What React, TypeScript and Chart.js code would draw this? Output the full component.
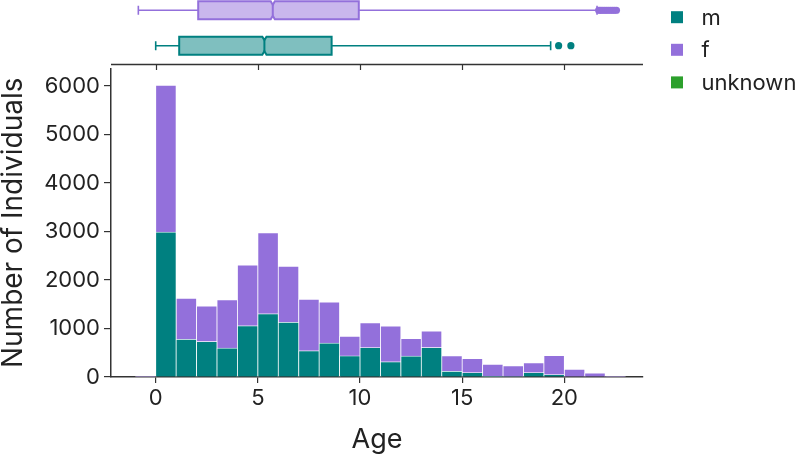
import React, { useEffect, useRef } from 'react';
import { Chart, registerables } from 'chart.js';

Chart.register(...registerables);

// ---------- data ----------
const binStarts = [-1, 0, 1, 2, 3, 4, 5, 6, 7, 8, 9, 10, 11, 12, 13, 14, 15, 16, 17, 18, 19, 20, 21, 22];
const mCounts = [0, 2990, 775, 730, 595, 1055, 1305, 1125, 540, 700, 435, 605, 315, 430, 607, 117, 90, 14, 10, 90, 48, 0, 0, 0];
const fCounts = [15, 3025, 845, 732, 998, 1255, 1670, 1158, 1060, 845, 406, 512, 733, 363, 338, 317, 289, 248, 218, 200, 393, 159, 83, 14];
const unknownCounts: number[] = [];
const seriesLabels = ['m', 'f', 'unknown'];

const xTicks = [0, 5, 10, 15, 20];
const yTicks = [0, 1000, 2000, 3000, 4000, 5000, 6000];

const boxNames = ['f', 'm'];
const boxRows = [1, 0];
const boxMin = [-0.85, 0.0];
const boxQ1 = [2.08, 1.15];
const boxMedian = [5.73, 5.32];
const boxQ3 = [9.94, 8.61];
const boxMax = [21.6, 19.33];
const notchHalf = [0.1, 0.1];
const fOutliers = [21.68, 21.76, 21.85, 21.95, 22.05, 22.15, 22.25, 22.35, 22.45, 22.55];
const mOutliers = [19.72, 20.32];
const boxOutliers = [fOutliers, mOutliers];

// ---------- styles ----------
const M_COLOR = '#008080';
const F_COLOR = '#9370DB';
const U_COLOR = '#2ca02c';
const M_FILL = 'rgba(0,128,128,0.5)';
const F_FILL = 'rgba(147,112,219,0.5)';
const AXIS = '#333333';
const TXT = '#222222';
const FONT = 'Inter';

const boxColors = [F_COLOR, M_COLOR];
const boxFills = [F_FILL, M_FILL];

const boxPlugin = {
  id: 'boxplots',
  afterDatasetsDraw(chart: any) {
    const x = chart.scales.x;
    const yb = chart.scales.yBox;
    const area = chart.chartArea;
    const ctx = chart.ctx;
    ctx.save();
    // bottom spine of marginal box area, with ticks
    const ySp = yb.bottom - 0.5;
    ctx.strokeStyle = AXIS;
    ctx.lineWidth = 1.5;
    ctx.beginPath();
    ctx.moveTo(area.left, ySp);
    ctx.lineTo(area.right, ySp);
    ctx.stroke();
    ctx.lineWidth = 1.2;
    xTicks.forEach((t) => {
      const px = Math.round(x.getPixelForValue(t)) + 0.5;
      ctx.beginPath();
      ctx.moveTo(px, ySp);
      ctx.lineTo(px, ySp + 5.5);
      ctx.stroke();
    });

    const h = 9;
    boxNames.forEach((_, i) => {
      const yc = yb.getPixelForValue(boxRows[i]);
      const x1 = x.getPixelForValue(boxQ1[i]);
      const x3 = x.getPixelForValue(boxQ3[i]);
      const xm = x.getPixelForValue(boxMedian[i]);
      const xnl = x.getPixelForValue(boxMedian[i] - notchHalf[i]);
      const xnh = x.getPixelForValue(boxMedian[i] + notchHalf[i]);
      const xlo = x.getPixelForValue(boxMin[i]);
      const xhi = x.getPixelForValue(boxMax[i]);
      const col = boxColors[i];
      ctx.strokeStyle = col;
      ctx.lineWidth = 1.6;
      // whiskers
      ctx.beginPath();
      ctx.moveTo(xlo, yc);
      ctx.lineTo(x1, yc);
      ctx.moveTo(x3, yc);
      ctx.lineTo(xhi, yc);
      ctx.moveTo(xlo, yc - h / 2);
      ctx.lineTo(xlo, yc + h / 2);
      ctx.moveTo(xhi, yc - h / 2);
      ctx.lineTo(xhi, yc + h / 2);
      ctx.stroke();
      // notched box
      ctx.beginPath();
      ctx.moveTo(x1, yc - h);
      ctx.lineTo(xnl, yc - h);
      ctx.lineTo(xm, yc - h * 0.6);
      ctx.lineTo(xnh, yc - h);
      ctx.lineTo(x3, yc - h);
      ctx.lineTo(x3, yc + h);
      ctx.lineTo(xnh, yc + h);
      ctx.lineTo(xm, yc + h * 0.6);
      ctx.lineTo(xnl, yc + h);
      ctx.lineTo(x1, yc + h);
      ctx.closePath();
      ctx.fillStyle = boxFills[i];
      ctx.fill();
      ctx.lineWidth = 2;
      ctx.stroke();
      ctx.beginPath();
      ctx.moveTo(xm, yc - h * 0.6);
      ctx.lineTo(xm, yc + h * 0.6);
      ctx.stroke();
      // outliers
      ctx.fillStyle = col;
      boxOutliers[i].forEach((v) => {
        ctx.beginPath();
        ctx.arc(x.getPixelForValue(v), yc, 3.6, 0, Math.PI * 2);
        ctx.fill();
      });
    });
    ctx.restore();
  },
};

const legendPlugin = {
  id: 'sideLegend',
  afterDraw(chart: any) {
    const ctx = chart.ctx;
    const area = chart.chartArea;
    const x0 = area.right + 28;
    ctx.save();
    chart.data.datasets.forEach((ds: any, i: number) => {
      const yc = 17.2 + i * 32.6;
      ctx.fillStyle = ds.backgroundColor;
      ctx.fillRect(x0, yc - 6, 12, 12);
      ctx.fillStyle = TXT;
      ctx.font = `22px ${FONT}`;
      ctx.textBaseline = 'middle';
      ctx.textAlign = 'left';
      ctx.fillText(ds.label, x0 + 30.5, yc + 1);
    });
    ctx.restore();
  },
};

export default function App() {
  const ref = useRef<HTMLCanvasElement | null>(null);

  useEffect(() => {
    if (!ref.current) return;
    const mk = (vals: number[]) => binStarts.map((b, i) => ({ x: b + 0.5, y: vals[i] }));
    const barStyle = {
      borderColor: 'rgba(255,255,255,0.85)',
      borderWidth: 0.75,
      categoryPercentage: 1,
      barPercentage: 1,
      yAxisID: 'y',
      xAxisID: 'x',
    };
    const noPadX = (s: any) => {
      s.height = 82;
      s.paddingLeft = 0;
      s.paddingRight = 0;
    };
    const noPadY = (s: any) => {
      s.width = 111;
      s.paddingTop = 0;
      s.paddingBottom = 0;
    };
    const chart = new Chart(ref.current, {
      type: 'bar',
      data: {
        datasets: [
          { label: seriesLabels[0], data: mk(mCounts), backgroundColor: M_COLOR, ...barStyle },
          { label: seriesLabels[1], data: mk(fCounts), backgroundColor: F_COLOR, ...barStyle },
          { label: seriesLabels[2], data: unknownCounts.map((v, i) => ({ x: binStarts[i] + 0.5, y: v })), backgroundColor: U_COLOR, ...barStyle },
        ],
      },
      options: {
        responsive: false,
        animation: false,
        layout: { padding: { left: 0, top: 0, right: 157, bottom: 0 } },
        plugins: { legend: { display: false }, tooltip: { enabled: false }, title: { display: false } },
        scales: {
          x: {
            type: 'linear',
            min: -2.188,
            max: 23.85,
            offset: false,
            stacked: true,
            z: 1,
            afterBuildTicks: (s: any) => {
              s.ticks = xTicks.map((v) => ({ value: v }));
            },
            afterFit: noPadX,
            grid: { offset: false, drawOnChartArea: false, drawTicks: true, tickLength: 6, color: AXIS, lineWidth: 1.2 },
            border: { display: true, color: AXIS, width: 1.5 },
            ticks: { color: TXT, font: { family: FONT, size: 22 }, padding: 2, maxRotation: 0, autoSkip: false, callback: (v: any) => String(v) },
            title: { display: true, text: 'Age', color: TXT, font: { family: FONT, size: 27, lineHeight: 1 }, padding: { top: 0, bottom: 6 } },
          },
          yBox: {
            type: 'linear',
            position: 'left',
            stack: 'v',
            stackWeight: 65,
            weight: 3,
            min: -0.545,
            max: 1.29,
            display: false,
          },
          yGap: {
            type: 'linear',
            position: 'left',
            stack: 'v',
            stackWeight: 3.5,
            weight: 2,
            display: false,
          },
          y: {
            type: 'linear',
            position: 'left',
            stack: 'v',
            stackWeight: 308.5,
            weight: 1,
            min: 0,
            max: 6361,
            stacked: true,
            z: 1,
            afterBuildTicks: (s: any) => {
              s.ticks = yTicks.map((v) => ({ value: v }));
            },
            afterFit: noPadY,
            grid: { drawOnChartArea: false, drawTicks: true, tickLength: 7, color: AXIS, lineWidth: 1.2 },
            border: { display: true, color: AXIS, width: 1.5 },
            ticks: { color: TXT, font: { family: FONT, size: 22 }, padding: 4, callback: (v: any) => String(v) },
            title: { display: true, text: 'Number of Individuals', color: TXT, font: { family: FONT, size: 28, lineHeight: 1 }, padding: { top: 0, bottom: 0 } },
          },
        },
      } as any,
      plugins: [boxPlugin, legendPlugin],
    });
    return () => chart.destroy();
  }, []);

  return (
    <div style={{ position: 'absolute', left: 0, top: 0, width: 800, height: 459, background: '#fff' }}>
      <canvas ref={ref} width={800} height={459} style={{ display: 'block' }} />
    </div>
  );
}
